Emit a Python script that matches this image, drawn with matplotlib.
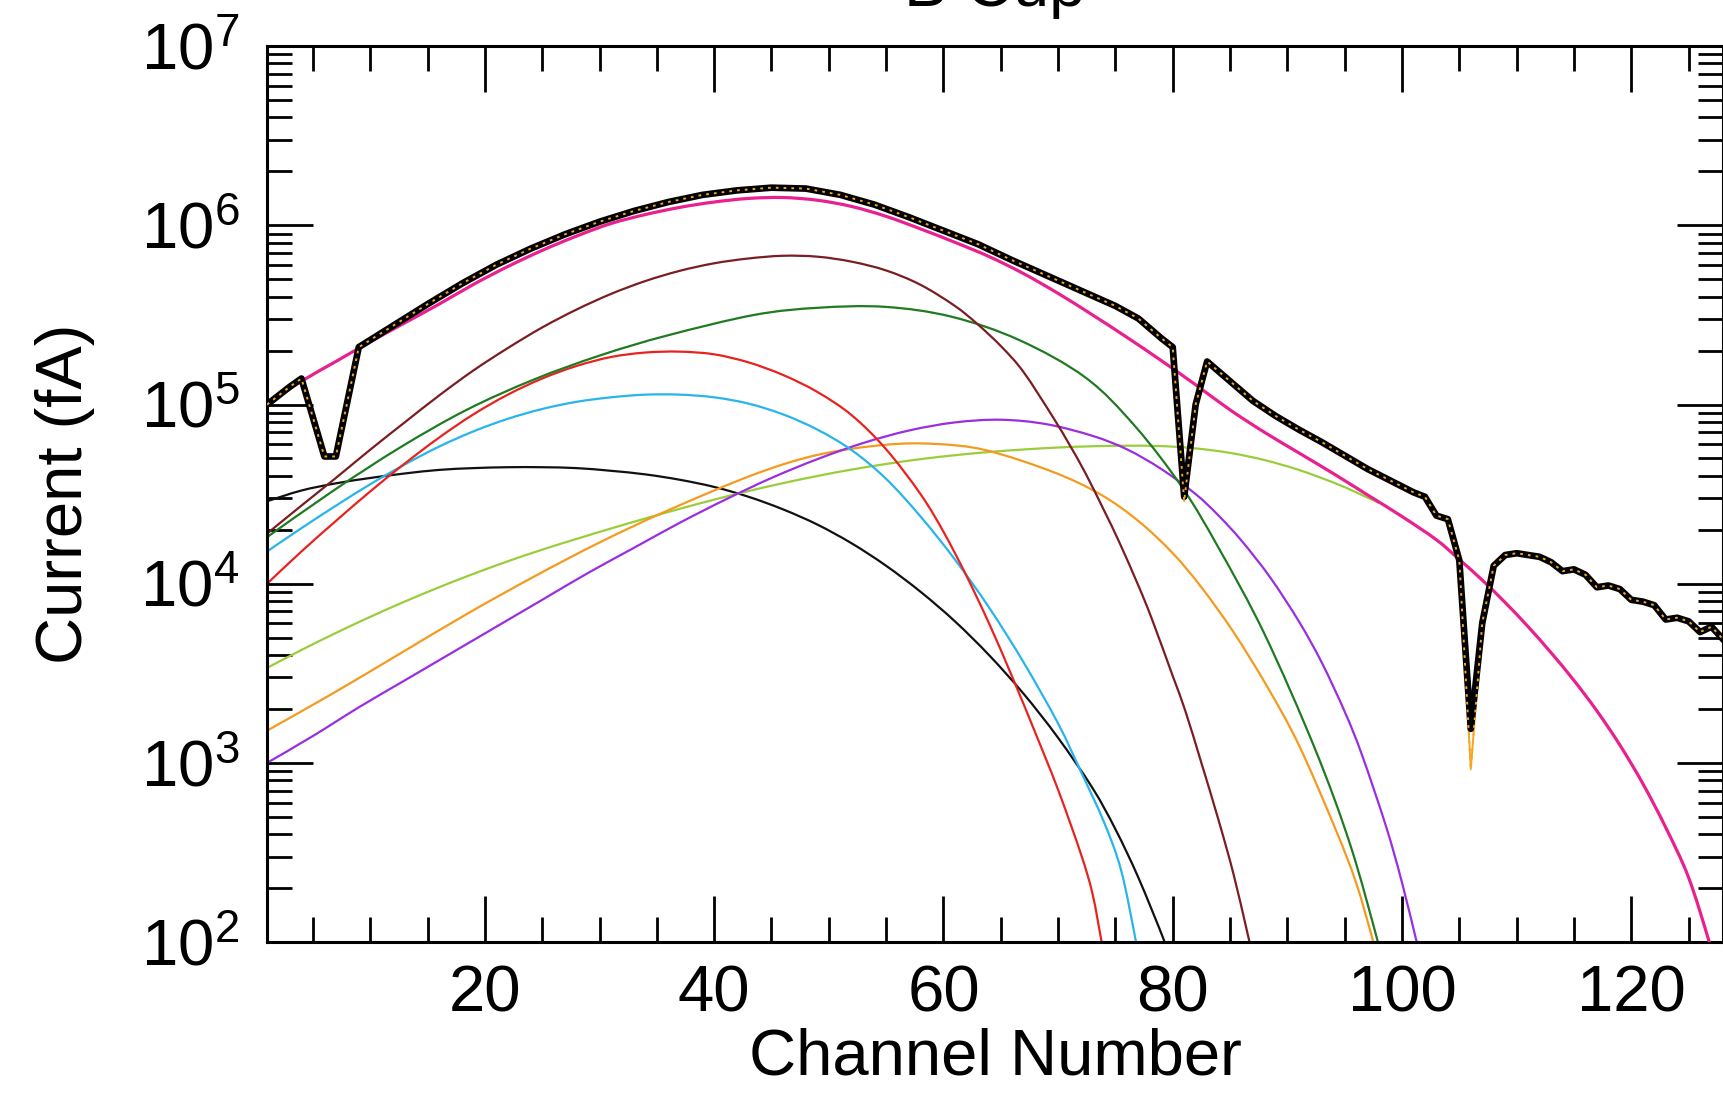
import numpy as np
import matplotlib
matplotlib.use("Agg")
import matplotlib.pyplot as plt
from matplotlib.path import Path
from matplotlib.patches import PathPatch
from matplotlib.ticker import LogLocator, MultipleLocator, LogFormatterSciNotation, NullFormatter

plt.rcParams.update({
    "font.family": ["Liberation Sans", "DejaVu Sans"],
    "mathtext.fontset": "custom",
    "mathtext.rm": "Liberation Sans",
    "mathtext.it": "Liberation Sans:italic",
    "mathtext.bf": "Liberation Sans:bold",
    "mathtext.default": "regular",
})

# ---- measured current (black trace with orange dots), log10(fA) ----
data_ch = [1, 2, 3, 4, 6, 7, 9, 12, 15, 18, 21, 24, 27, 30, 33, 36, 39, 42, 45, 48,
           51, 54, 57, 60, 63, 66, 69, 72, 75, 77, 79, 80, 81, 82, 83, 85, 87, 89, 91,
           93, 95, 97, 99, 101, 102, 103, 104, 105, 106, 107, 108, 109, 110, 111, 112,
           113, 114, 115, 116, 117, 118, 119, 120, 121, 122, 123, 124, 125, 126, 127, 128]
data_log = [5.00, 5.05, 5.10, 5.145, 4.71, 4.71, 5.32, 5.44, 5.56, 5.675, 5.78, 5.87,
            5.95, 6.02, 6.08, 6.13, 6.17, 6.195, 6.21, 6.205, 6.17, 6.115, 6.045, 5.97,
            5.895, 5.805, 5.72, 5.635, 5.55, 5.48, 5.37, 5.32, 4.485, 5.00, 5.24, 5.13,
            5.02, 4.935, 4.86, 4.79, 4.715, 4.64, 4.575, 4.51, 4.485, 4.38, 4.36, 4.13,
            3.19, 3.78, 4.10, 4.16, 4.17, 4.16, 4.15, 4.12, 4.07, 4.08, 4.05, 3.98, 3.99,
            3.97, 3.91, 3.90, 3.88, 3.80, 3.81, 3.79, 3.73, 3.76, 3.69]
# orange points follow the same trace but reach deeper in the two narrow dips
dot_dips = {81: 4.46, 106: 2.965}

# ---- total fit (magenta) ----
total_ch = [1, 4, 7, 10, 13, 16, 19, 22, 25, 28, 31, 34, 37, 40, 43, 46, 49, 52, 55, 58,
            61, 64, 67, 70, 73, 76, 79, 82, 85, 88, 91, 94, 97, 100, 103, 105, 107, 109,
            111, 113, 115, 117, 119, 121, 123, 125, 126.8, 128]
total_log = [5.006, 5.13, 5.24, 5.35, 5.455, 5.56, 5.67, 5.77, 5.86, 5.94, 6.01, 6.06,
             6.10, 6.13, 6.15, 6.155, 6.14, 6.105, 6.05, 5.98, 5.905, 5.825, 5.73, 5.62,
             5.50, 5.375, 5.245, 5.11, 4.97, 4.845, 4.73, 4.615, 4.495, 4.375, 4.245,
             4.135, 4.02, 3.895, 3.76, 3.615, 3.46, 3.29, 3.10, 2.885, 2.64, 2.36, 2.0, 1.72]

# ---- fit components ----
brown_ch = [1, 4, 7, 10, 13, 16, 19, 22, 25, 28, 31, 34, 37, 40, 43, 46, 49, 52, 55, 58,
            61, 63, 65.1, 67, 69.5, 71, 72.4, 74, 75.3, 77, 78.2, 80, 81.1, 82.5, 84,
            85.3, 86.5, 87.5]
brown_log = [4.28, 4.436, 4.59, 4.748, 4.90, 5.05, 5.19, 5.315, 5.43, 5.53, 5.617, 5.689,
             5.746, 5.788, 5.815, 5.83, 5.825, 5.797, 5.748, 5.668, 5.55, 5.447, 5.32,
             5.18, 4.935, 4.775, 4.615, 4.41, 4.237, 3.99, 3.80, 3.485, 3.29, 3.00, 2.68,
             2.38, 2.055, 1.78]

green_ch = [1, 6.8, 12.6, 18.4, 24.3, 30.1, 35.9, 43.5, 49.1, 54.9, 60.7, 66.6, 72.4,
            76.7, 80.8, 84, 88, 92.4, 95.5, 97.9, 99]
green_log = [4.26, 4.52, 4.76, 4.97, 5.14, 5.275, 5.385, 5.50, 5.54, 5.545, 5.49, 5.36,
             5.15, 4.88, 4.54, 4.20, 3.72, 3.08, 2.54, 2.0, 1.72]

red_ch = [1, 4, 7, 10, 13, 16, 19, 22, 25, 28, 31, 34, 37, 40, 43, 46, 49, 52, 55, 58,
          60, 62, 64, 66, 68, 70, 72, 73, 73.8, 74.5]
red_log = [4.00, 4.18, 4.35, 4.515, 4.67, 4.815, 4.945, 5.055, 5.145, 5.215, 5.265, 5.29,
           5.295, 5.28, 5.235, 5.165, 5.07, 4.94, 4.75, 4.50, 4.29, 4.045, 3.775, 3.48,
           3.17, 2.85, 2.49, 2.27, 2.0, 1.75]

cyan_ch = [1, 4, 7, 10, 13, 16, 19, 22, 25, 28, 31, 34, 37, 40, 43, 46, 49, 52, 55, 58,
           61, 64, 67, 70, 72, 74, 75.5, 76.8, 77.8]
cyan_log = [4.18, 4.31, 4.435, 4.555, 4.665, 4.765, 4.85, 4.92, 4.975, 5.015, 5.04, 5.055,
            5.055, 5.04, 5.005, 4.945, 4.86, 4.745, 4.585, 4.375, 4.135, 3.865, 3.56,
            3.22, 2.95, 2.67, 2.40, 2.0, 1.65]

black_ch = [1, 4, 7, 10, 13, 16, 19, 22, 25, 28, 31, 34, 37, 40, 43, 46, 49, 52, 55, 58,
            61, 64, 67, 70, 73, 75, 77, 79.3, 80.5]
black_log = [4.46, 4.52, 4.56, 4.59, 4.615, 4.635, 4.645, 4.65, 4.65, 4.645, 4.63, 4.61,
             4.58, 4.54, 4.485, 4.415, 4.33, 4.225, 4.10, 3.955, 3.79, 3.60, 3.385, 3.14,
             2.86, 2.63, 2.36, 2.0, 1.78]

purple_ch = [1, 5, 9, 13, 17, 21, 25, 29, 33, 37, 41, 45, 49, 53, 57, 61, 65, 69, 73,
             76, 79, 82, 84, 86, 88.5, 91, 93, 95, 96.5, 98.6, 100, 101.5, 103]
purple_log = [3.00, 3.15, 3.31, 3.46, 3.61, 3.76, 3.91, 4.06, 4.20, 4.34, 4.47, 4.59,
              4.695, 4.785, 4.855, 4.90, 4.915, 4.89, 4.825, 4.75, 4.64, 4.50, 4.38,
              4.24, 4.035, 3.79, 3.56, 3.286, 3.046, 2.647, 2.332, 1.942, 1.55]

orange_ch = [1, 6.8, 12.6, 18.4, 24.3, 30, 36, 43.5, 49.1, 54.9, 59.3, 63.7, 69.5,
             73.65, 77, 80, 82.5, 85.3, 88.2, 91, 94.2, 96, 97.5, 98.5]
orange_log = [3.18, 3.39, 3.61, 3.83, 4.04, 4.23, 4.41, 4.61, 4.72, 4.775, 4.78, 4.745,
              4.625, 4.50, 4.35, 4.17, 3.98, 3.73, 3.43, 3.10, 2.63, 2.33, 2.0, 1.75]

lime_ch = [1, 4, 7, 10, 13, 16, 19, 22, 25, 28, 31, 34, 37, 40, 43, 46, 49, 52, 55, 58,
           61, 64, 67, 70, 73, 76, 79, 82, 85, 88, 91, 94, 96, 98]
lime_log = [3.53, 3.63, 3.725, 3.815, 3.90, 3.98, 4.055, 4.125, 4.19, 4.25, 4.308, 4.364,
            4.418, 4.469, 4.517, 4.561, 4.601, 4.637, 4.668, 4.695, 4.717, 4.735, 4.749,
            4.76, 4.767, 4.77, 4.768, 4.755, 4.73, 4.69, 4.635, 4.565, 4.51, 4.45]

components = [
    (black_ch, black_log, "#111111"),
    (lime_ch, lime_log, "#9acd3a"),
    (orange_ch, orange_log, "#f59a1e"),
    (purple_ch, purple_log, "#9a2ee0"),
    (cyan_ch, cyan_log, "#28b4ec"),
    (red_ch, red_log, "#e8231f"),
    (green_ch, green_log, "#1f7a22"),
    (brown_ch, brown_log, "#7a1e22"),
]


def smooth_curve(ax, ch, lg, color, lw, z):
    """Draw a fit curve as a smooth (Catmull-Rom style) Bezier path through the read points."""
    x = np.asarray(ch, float)
    y = np.asarray(lg, float)
    xp = np.r_[x[0], x, x[-1]]
    yp = np.r_[y[0], y, y[-1]]
    verts = [(x[0], 10 ** y[0])]
    codes = [Path.MOVETO]
    for i in range(len(x) - 1):
        c1x = xp[i + 1] + (xp[i + 2] - xp[i]) / 6
        c1y = yp[i + 1] + (yp[i + 2] - yp[i]) / 6
        c2x = xp[i + 2] - (xp[i + 3] - xp[i + 1]) / 6
        c2y = yp[i + 2] - (yp[i + 3] - yp[i + 1]) / 6
        verts += [(c1x, 10 ** c1y), (c2x, 10 ** c2y), (x[i + 1], 10 ** y[i + 1])]
        codes += [Path.CURVE4] * 3
    ax.add_patch(PathPatch(Path(verts, codes), fill=False, edgecolor=color, lw=lw,
                           zorder=z, capstyle="butt"))


fig = plt.figure(figsize=(17.23, 10.98), dpi=100)
ax = fig.add_axes([0.155, 0.142, 0.845, 0.816])
ax.set_yscale("log")
ax.set_xlim(1, 128)
ax.set_ylim(1e2, 1e7)

for ch, lg, col in components:
    smooth_curve(ax, ch, lg, col, 1.6, 2)

smooth_curve(ax, total_ch, total_log, "#e8218e", 2.3, 3)

data_cur = 10 ** np.array(data_log)
dot_cur = np.array([10 ** dot_dips.get(c, v) for c, v in zip(data_ch, data_log)])
ax.plot(data_ch, dot_cur, color="#f5a623", lw=1.4, zorder=4)
ax.plot(data_ch, data_cur, color="black", lw=4.8, zorder=5, solid_joinstyle="round")
ax.plot(data_ch, dot_cur, color="#f5a623", lw=1.4, ls=(0, (1.4, 2.6)), zorder=6)

ax.xaxis.set_major_locator(MultipleLocator(20))
ax.xaxis.set_minor_locator(MultipleLocator(5))
ax.yaxis.set_major_locator(LogLocator(base=10, numticks=10))
ax.yaxis.set_minor_locator(LogLocator(base=10, subs=np.arange(2, 10), numticks=50))
ax.yaxis.set_major_formatter(LogFormatterSciNotation())
ax.yaxis.set_minor_formatter(NullFormatter())

ax.tick_params(which="both", direction="in", top=True, right=True, width=2.0,
               labelsize=47, color="black")
ax.tick_params(which="major", length=33)
ax.tick_params(which="minor", length=18)
ax.tick_params(axis="x", which="major", pad=16)
ax.tick_params(axis="y", which="major", pad=20)
for s in ax.spines.values():
    s.set_linewidth(2.2)

ax.set_xlabel("Channel Number", fontsize=47)
ax.set_ylabel("Current (fA)", fontsize=47)
ax.xaxis.set_label_coords(0.5, -0.095)
ax.yaxis.set_label_coords(-0.118, 0.5)

fig.text(0.5775, 0.9945, "B Cup", ha="center", va="baseline", fontsize=47)

fig.savefig("out.png", dpi=100)
